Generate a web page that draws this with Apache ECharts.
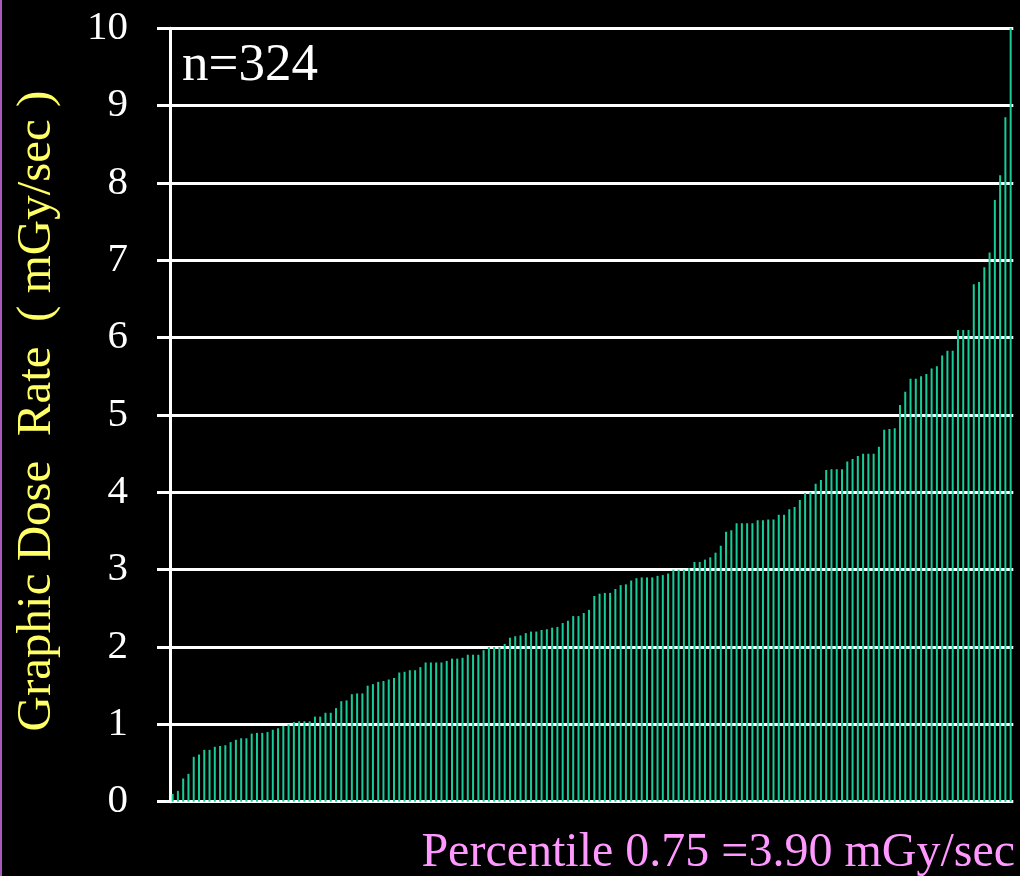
<!DOCTYPE html>
<html>
<head>
<meta charset="utf-8">
<style>
  html, body { margin: 0; padding: 0; background: #000; }
  #chart { width: 1020px; height: 876px; }
</style>
<script src="https://cdn.jsdelivr.net/npm/echarts@6/dist/echarts.min.js"></script>
</head>
<body>
<div id="chart"></div>
<script>
// Sorted dose-rate values (mGy/sec), one per bar
const doseRates = [
  0.10, 0.14, 0.30, 0.36, 0.58, 0.61, 0.67, 0.67, 0.71, 0.72, 0.73, 0.77, 0.80, 0.82, 0.82, 0.88,
  0.89, 0.89, 0.90, 0.93, 0.95, 0.98, 1.00, 1.03, 1.04, 1.04, 1.04, 1.10, 1.10, 1.15, 1.15,
  1.21, 1.30, 1.31, 1.39, 1.40, 1.40, 1.50, 1.52, 1.55, 1.56, 1.58, 1.60, 1.67, 1.68, 1.70, 1.70,
  1.74, 1.80, 1.80, 1.80, 1.80, 1.82, 1.85, 1.85, 1.86, 1.90, 1.90, 1.90, 1.96, 2.00, 2.00, 2.00,
  2.04, 2.12, 2.14, 2.15, 2.18, 2.20, 2.20, 2.22, 2.23, 2.25, 2.26, 2.31, 2.34, 2.40, 2.40, 2.44,
  2.48, 2.66, 2.69, 2.70, 2.70, 2.75, 2.80, 2.81, 2.86, 2.89, 2.90, 2.90, 2.90, 2.92, 2.93, 2.95,
  3.00, 3.00, 3.00, 3.02, 3.10, 3.10, 3.13, 3.16, 3.22, 3.31, 3.49, 3.51, 3.60, 3.60, 3.60, 3.60,
  3.64, 3.64, 3.65, 3.65, 3.71, 3.71, 3.78, 3.81, 3.90, 3.99, 4.00, 4.11, 4.16, 4.29, 4.30, 4.30,
  4.30, 4.40,
  4.43, 4.47, 4.50, 4.50, 4.50, 4.59, 4.81, 4.82, 4.83, 5.13, 5.30, 5.47, 5.47, 5.50, 5.53, 5.60,
  5.63, 5.77, 5.83, 5.83, 6.10, 6.10, 6.10,
  6.69, 6.72, 6.91, 7.10, 7.78, 8.10, 8.85, 10.0
];
const categories = doseRates.map((_, i) => String(i + 1));
const yMin = 0, yMax = 10, yStep = 1;
const sampleLabel = 'n=324';
const yTitle = 'Graphic Dose  Rate  ( mGy/sec )';
const footnote = 'Percentile 0.75 =3.90 mGy/sec';

const FONT = '"Liberation Serif", "Times New Roman", serif';
const chart = echarts.init(document.getElementById('chart'), null, { renderer: 'canvas' });
chart.setOption({
  backgroundColor: '#000000',
  animation: false,
  grid: { left: 170, right: 6.7, top: 28.3, bottom: 74.3, containLabel: false },
  xAxis: {
    type: 'category',
    data: categories,
    boundaryGap: true,
    axisLine: { show: false },
    axisTick: { show: false },
    axisLabel: { show: false },
    splitLine: { show: false }
  },
  yAxis: {
    type: 'value',
    min: yMin, max: yMax, interval: yStep,
    axisLine: { show: true, onZero: false, lineStyle: { color: '#ffffff', width: 3 } },
    axisTick: { show: true, inside: false, length: 13, lineStyle: { color: '#ffffff', width: 3 } },
    axisLabel: { color: '#ffffff', fontFamily: FONT, fontSize: 41, margin: 42 },
    splitLine: { show: true, lineStyle: { color: '#ffffff', width: 3 } }
  },
  series: [{
    type: 'bar',
    data: doseRates,
    barWidth: 2,
    itemStyle: { color: '#16cc98' },
    silent: true
  }],
  graphic: [
    { type: 'rect', left: 0, top: 0, shape: { width: 2, height: 876 }, style: { fill: '#a85abc' }, silent: true },
    { type: 'text', x: 182, y: 66, style: { text: sampleLabel, fill: '#ffffff', font: '53px ' + FONT, textAlign: 'left', textVerticalAlign: 'middle' } },
    { type: 'text', x: 37, y: 411, rotation: Math.PI / 2, style: { text: yTitle, fill: '#ffff66', font: '49px ' + FONT, textAlign: 'center', textVerticalAlign: 'middle' } },
    { type: 'text', x: 1015, y: 853, style: { text: footnote, fill: '#ff99ff', font: '48px ' + FONT, textAlign: 'right', textVerticalAlign: 'middle' } }
  ]
});
</script>
</body>
</html>
